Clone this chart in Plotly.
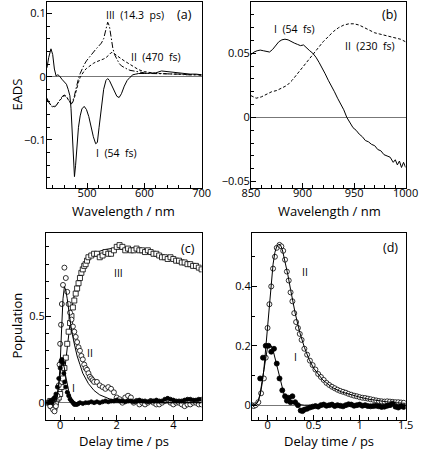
import plotly.graph_objects as go

# ---------------- Panel (a): EADS, visible ----------------
wl_a = [430, 433, 437, 440, 443, 446, 449, 452, 456, 460, 464, 467, 470, 472, 474, 476, 478, 480,
        482, 485, 488, 491, 495, 499, 503, 507, 511, 515, 518, 521, 525, 529, 533, 536, 539, 542,
        545, 548, 552, 556, 560, 565, 570, 575, 580, 585, 590, 600, 610, 620, 630, 640, 650, 660,
        670, 680, 690, 700]
eads_a_I = [0.014, 0.03, 0.044, 0.035, 0.012, 0.001, 0.003, 0.001, -0.004, -0.008, -0.012, -0.02,
            -0.03, -0.05, -0.085, -0.125, -0.158, -0.14, -0.11, -0.08, -0.062, -0.051, -0.047,
            -0.052, -0.063, -0.08, -0.095, -0.106, -0.104, -0.08, -0.045, -0.02, -0.006, -0.003,
            -0.006, -0.012, -0.018, -0.025, -0.031, -0.033, -0.027, -0.015, -0.006, -0.001, 0.003,
            0.004, 0.005, 0.005, 0.005, 0.006, 0.009, 0.008, 0.006, 0.005, 0.005, 0.004, 0.004, 0.003]
eads_a_II = [-0.034, -0.04, -0.045, -0.047, -0.047, -0.045, -0.042, -0.038, -0.033, -0.03, -0.032,
             -0.037, -0.041, -0.043, -0.043, -0.039, -0.033, -0.026, -0.018, -0.009, -0.001, 0.004,
             0.009, 0.013, 0.016, 0.019, 0.021, 0.023, 0.024, 0.025, 0.026, 0.028, 0.03, 0.032,
             0.035, 0.038, 0.038, 0.036, 0.033, 0.03, 0.028, 0.025, 0.022, 0.019, 0.016, 0.013,
             0.011, 0.008, 0.006, 0.005, 0.005, 0.004, 0.004, 0.004, 0.003, 0.003, 0.003, 0.002]
eads_a_III = [-0.036, -0.041, -0.046, -0.048, -0.048, -0.046, -0.042, -0.037, -0.032, -0.029, -0.031,
              -0.036, -0.04, -0.042, -0.042, -0.037, -0.03, -0.022, -0.013, -0.003, 0.005, 0.012,
              0.019, 0.025, 0.03, 0.035, 0.039, 0.043, 0.046, 0.049, 0.053, 0.06, 0.075, 0.086,
              0.08, 0.062, 0.045, 0.035, 0.027, 0.021, 0.017, 0.014, 0.012, 0.01, 0.009, 0.008,
              0.007, 0.006, 0.005, 0.005, 0.005, 0.004, 0.004, 0.004, 0.003, 0.003, 0.003, 0.003]

# ---------------- Panel (b): EADS, near-IR ----------------
wl_b_I = [850, 853, 856, 859, 862, 865, 868, 871, 874, 877, 880, 883, 886, 889, 892, 895, 898, 901,
          904, 907, 910, 913, 916, 919, 922, 925, 928, 931, 934, 937, 940, 943, 946, 949, 952, 955,
          958, 961, 964, 967, 970, 973, 976, 979, 982, 985, 988, 990, 992, 994, 996, 998, 1000]
eads_b_I = [0.049, 0.051, 0.052, 0.0525, 0.052, 0.0515, 0.051, 0.053, 0.056, 0.059, 0.0605, 0.061,
            0.0605, 0.059, 0.058, 0.057, 0.056, 0.0565, 0.054, 0.052, 0.05, 0.047, 0.043, 0.039,
            0.034, 0.029, 0.025, 0.02, 0.015, 0.011, 0.006, 0.0, -0.004, -0.008, -0.01, -0.013,
            -0.015, -0.018, -0.019, -0.021, -0.022, -0.025, -0.026, -0.029, -0.03, -0.031, -0.035,
            -0.033, -0.037, -0.034, -0.039, -0.035, -0.039]
wl_b_II = [850, 855, 860, 865, 870, 875, 880, 885, 890, 895, 900, 905, 910, 915, 920, 925, 930, 935,
           940, 945, 950, 955, 960, 965, 970, 975, 980, 985, 990, 995, 1000]
eads_b_II = [0.017, 0.015, 0.016, 0.018, 0.020, 0.021, 0.023, 0.025, 0.029, 0.034, 0.039, 0.044,
             0.049, 0.054, 0.059, 0.063, 0.067, 0.070, 0.072, 0.073, 0.073, 0.072, 0.070, 0.068,
             0.066, 0.065, 0.064, 0.063, 0.062, 0.061, 0.059]

# ---------------- Panel (c): populations, 0-5 ps ----------------
t_c_III = [-0.4, -0.35, -0.3, -0.25, -0.2, -0.15, -0.1, -0.05, 0.0, 0.05, 0.1, 0.15, 0.2, 0.25, 0.3,
           0.35, 0.4, 0.45, 0.5, 0.55, 0.6, 0.65, 0.7, 0.75, 0.8, 0.85, 0.9, 0.95, 1.0, 1.1, 1.2,
           1.3, 1.4, 1.5, 1.6, 1.7, 1.8, 1.9, 2.0, 2.1, 2.2, 2.3, 2.4, 2.5, 2.6, 2.7, 2.8, 2.9,
           3.0, 3.1, 3.2, 3.3, 3.4, 3.5, 3.6, 3.7, 3.8, 3.9, 4.0, 4.1, 4.2, 4.3, 4.4, 4.5, 4.6,
           4.7, 4.8, 4.9, 5.0]
pop_c_III = [0.0, 0.01, -0.02, 0.0, -0.03, 0.0, 0.02, 0.03, 0.05, 0.09, 0.14, 0.2, 0.26, 0.34, 0.41,
             0.46, 0.5, 0.55, 0.59, 0.63, 0.66, 0.69, 0.72, 0.75, 0.77, 0.79, 0.8, 0.82, 0.84,
             0.85, 0.86, 0.86, 0.84, 0.85, 0.87, 0.86, 0.86, 0.88, 0.9, 0.91, 0.9, 0.88, 0.89,
             0.88, 0.88, 0.89, 0.88, 0.88, 0.87, 0.88, 0.87, 0.86, 0.86, 0.85, 0.84, 0.84, 0.83,
             0.84, 0.83, 0.82, 0.82, 0.81, 0.81, 0.8, 0.8, 0.79, 0.79, 0.78, 0.77]
t_c_II = [-0.4, -0.35, -0.3, -0.25, -0.2, -0.15, -0.1, -0.05, -0.02, 0.0, 0.03, 0.06, 0.1, 0.15,
          0.2, 0.25, 0.3, 0.35, 0.4, 0.45, 0.5, 0.55, 0.6, 0.65, 0.7, 0.75, 0.8, 0.85, 0.9, 0.95,
          1.0, 1.05, 1.1, 1.15, 1.2, 1.3, 1.4, 1.5, 1.6, 1.7, 1.8, 1.9, 2.0, 2.1, 2.2, 2.3, 2.4,
          2.5, 2.6, 2.7, 2.8, 2.9, 3.0, 3.1, 3.2, 3.3, 3.4, 3.5, 3.6, 3.7, 3.8, 3.9, 4.0, 4.1,
          4.2, 4.3, 4.4, 4.5, 4.6, 4.7, 4.8, 4.9, 5.0]
pop_c_II = [0.0, -0.02, 0.01, -0.04, -0.05, -0.02, 0.04, 0.1, 0.22, 0.34, 0.45, 0.57, 0.68, 0.78,
            0.72, 0.64, 0.57, 0.52, 0.48, 0.44, 0.41, 0.38, 0.35, 0.32, 0.3, 0.27, 0.25, 0.22,
            0.2, 0.19, 0.17, 0.15, 0.14, 0.13, 0.12, 0.12, 0.1, 0.09, 0.08, 0.09, 0.08, 0.06,
            0.03, 0.02, 0.0, 0.03, 0.04, 0.03, 0.0, 0.01, -0.01, 0.0, -0.01, 0.0, 0.01, 0.0,
            -0.01, -0.01, 0.0, 0.01, 0.02, 0.0, -0.01, 0.0, 0.0, -0.01, -0.02, -0.01, -0.01,
            0.0, 0.0, -0.01, -0.01]
t_c_I = [-0.4, -0.35, -0.3, -0.25, -0.2, -0.15, -0.1, -0.05, 0.0, 0.03, 0.06, 0.1, 0.13, 0.16, 0.2,
         0.25, 0.3, 0.35, 0.4, 0.45, 0.5, 0.55, 0.6, 0.65, 0.7, 0.8, 0.9, 1.0, 1.1, 1.2, 1.3, 1.4,
         1.5, 1.6, 1.7, 1.8, 1.9, 2.0, 2.1, 2.2, 2.3, 2.4, 2.5, 2.6, 2.7, 2.8, 2.9, 3.0, 3.1,
         3.2, 3.3, 3.4, 3.5, 3.6, 3.7, 3.8, 3.9, 4.0, 4.1, 4.2, 4.3, 4.4, 4.5, 4.6, 4.7, 4.8,
         4.9, 5.0]
pop_c_I = [0.0, 0.01, 0.0, 0.02, 0.03, 0.05, 0.09, 0.14, 0.2, 0.24, 0.25, 0.23, 0.17, 0.12, 0.09,
           0.06, 0.04, 0.02, 0.01, 0.0, -0.01, -0.01, -0.01, -0.005, 0.0, -0.005, 0.0, 0.0, 0.005,
           0.0, 0.005, 0.0, 0.005, 0.01, 0.005, 0.01, 0.01, 0.015, 0.01, 0.01, 0.005, 0.01, 0.01,
           0.005, 0.01, 0.015, 0.01, 0.01, 0.005, 0.01, 0.01, 0.015, 0.01, 0.01, 0.02, 0.025,
           0.02, 0.015, 0.01, 0.01, 0.01, 0.015, 0.02, 0.02, 0.015, 0.015, 0.02, 0.02]
t_c_fit = [-0.5, -0.3, -0.2, -0.15, -0.1, -0.05, 0.0, 0.05, 0.1, 0.15, 0.2, 0.25, 0.3, 0.4, 0.5,
           0.6, 0.7, 0.8, 1.0, 1.2, 1.4, 1.6, 1.8, 2.0, 2.5, 3.0, 3.5, 4.0, 4.5, 5.0]
fit_c_I = [0.0, 0.0, 0.005, 0.02, 0.05, 0.11, 0.17, 0.22, 0.23, 0.2, 0.15, 0.1, 0.07, 0.025, 0.005,
           0.0, 0.0, 0.0, 0.0, 0.0, 0.0, 0.0, 0.0, 0.0, 0.0, 0.0, 0.0, 0.0, 0.0, 0.0]
fit_c_II = [0.0, 0.0, 0.0, 0.005, 0.03, 0.1, 0.22, 0.42, 0.6, 0.67, 0.65, 0.6, 0.53, 0.42, 0.34,
            0.27, 0.22, 0.17, 0.11, 0.07, 0.045, 0.03, 0.018, 0.01, 0.003, 0.0, 0.0, 0.0, 0.0, 0.0]
fit_c_III = [0.0, 0.0, 0.0, 0.0, 0.003, 0.01, 0.03, 0.06, 0.1, 0.17, 0.25, 0.33, 0.41, 0.53, 0.62,
             0.68, 0.73, 0.77, 0.82, 0.855, 0.875, 0.885, 0.89, 0.89, 0.88, 0.865, 0.845, 0.82,
             0.795, 0.77]

# ---------------- Panel (d): populations, 0-1.5 ps ----------------
t_d_II = [-0.17, -0.15, -0.13, -0.1, -0.07, -0.04, -0.02, 0.0, 0.02, 0.04, 0.06, 0.08, 0.1, 0.13,
          0.15, 0.17, 0.19, 0.21, 0.23, 0.25, 0.27, 0.29, 0.31, 0.33, 0.35, 0.37, 0.4, 0.43, 0.46,
          0.49, 0.52, 0.55, 0.58, 0.61, 0.64, 0.67, 0.7, 0.73, 0.76, 0.79, 0.82, 0.85, 0.88,
          0.91, 0.94, 0.97, 1.0, 1.03, 1.06, 1.09, 1.12, 1.15, 1.18, 1.21, 1.24, 1.27, 1.3,
          1.33, 1.36, 1.39, 1.42, 1.45, 1.48]
pop_d_II = [0.0, -0.003, 0.0, 0.01, 0.04, 0.09, 0.16, 0.26, 0.34, 0.4, 0.46, 0.5, 0.53, 0.54,
            0.535, 0.52, 0.49, 0.45, 0.42, 0.38, 0.35, 0.31, 0.28, 0.26, 0.24, 0.22, 0.19, 0.17,
            0.15, 0.135, 0.12, 0.105, 0.095, 0.085, 0.075, 0.068, 0.062, 0.057, 0.052, 0.048,
            0.045, 0.042, 0.038, 0.035, 0.032, 0.03, 0.027, 0.025, 0.024, 0.022, 0.02, 0.018,
            0.016, 0.014, 0.013, 0.012, 0.013, 0.012, 0.011, 0.01, 0.01, 0.009, 0.008]
t_d_I = [-0.08, -0.05, -0.02, 0.01, 0.04, 0.07, 0.1, 0.13, 0.16, 0.19, 0.21, 0.23, 0.25, 0.27, 0.3,
         0.33, 0.36, 0.38, 0.4, 0.43, 0.46, 0.49, 0.52, 0.55, 0.58, 0.61, 0.64, 0.67, 0.7, 0.73,
         0.76, 0.79, 0.82, 0.85, 0.88, 0.91, 0.94, 0.97, 1.0, 1.03, 1.06, 1.09, 1.12, 1.15, 1.18,
         1.21, 1.24, 1.27, 1.3, 1.33, 1.36, 1.39, 1.42, 1.45, 1.48]
pop_d_I = [0.09, 0.16, 0.2, 0.2, 0.18, 0.19, 0.14, 0.09, 0.05, 0.03, 0.015, 0.025, 0.01, 0.03, 0.01,
           0.0, -0.018, -0.02, -0.015, -0.012, -0.008, -0.005, -0.003, -0.005, 0.0, 0.002,
           -0.002, 0.0, 0.002, -0.003, 0.0, -0.002, -0.004, 0.0, 0.003, 0.002, -0.002, 0.0,
           0.002, -0.002, 0.0, -0.003, -0.004, -0.003, -0.002, -0.004, -0.006, -0.005, -0.002,
           0.0, 0.005, -0.005, -0.008, -0.004, -0.006]
t_d_fit = [-0.17, -0.15, -0.12, -0.1, -0.08, -0.06, -0.04, -0.02, 0.0, 0.02, 0.04, 0.06, 0.08, 0.1,
           0.12, 0.14, 0.16, 0.18, 0.2, 0.22, 0.25, 0.3, 0.35, 0.4, 0.45, 0.5, 0.6, 0.7, 0.8, 0.9,
           1.0, 1.1, 1.2, 1.3, 1.4, 1.5]
fit_d_I = [0.0, 0.0, 0.005, 0.015, 0.04, 0.08, 0.13, 0.17, 0.195, 0.205, 0.2, 0.185, 0.16, 0.13,
           0.1, 0.075, 0.05, 0.035, 0.025, 0.018, 0.01, 0.004, 0.001, 0.0, 0.0, 0.0, 0.0, 0.0,
           0.0, 0.0, 0.0, 0.0, 0.0, 0.0, 0.0, 0.0]
fit_d_II = [0.0, 0.0, 0.005, 0.015, 0.035, 0.07, 0.12, 0.19, 0.27, 0.35, 0.42, 0.475, 0.515, 0.535,
            0.542, 0.54, 0.525, 0.5, 0.47, 0.44, 0.39, 0.31, 0.245, 0.195, 0.155, 0.125, 0.085,
            0.06, 0.045, 0.035, 0.027, 0.02, 0.015, 0.011, 0.008, 0.006]

FONT = "Open Sans"
W, H = 430, 451

fig = go.Figure()

def line(x, y, ax, dash="solid", width=1):
    fig.add_trace(go.Scatter(x=x, y=y, mode="lines", xaxis="x" + ax, yaxis="y" + ax,
                             line=dict(color="black", width=width, dash=dash),
                             hoverinfo="skip", showlegend=False))

def pts(x, y, ax, symbol, size, filled):
    fig.add_trace(go.Scatter(x=x, y=y, mode="markers", xaxis="x" + ax, yaxis="y" + ax,
                             marker=dict(symbol=symbol, size=size,
                                         color="black" if filled else "white",
                                         line=dict(color="black", width=0.8)),
                             hoverinfo="skip", showlegend=False))

# (a)
line(wl_a, eads_a_I, "")
line(wl_a, eads_a_II, "", dash="3px,2px")
line(wl_a, eads_a_III, "", dash="6px,2px,1.5px,2px")
# (b)
line(wl_b_I, eads_b_I, "2")
line(wl_b_II, eads_b_II, "2", dash="3px,2px")
# (c)
line(t_c_fit, fit_c_III, "3")
pts(t_c_III, pop_c_III, "3", "square", 5, False)
pts(t_c_II, pop_c_II, "3", "circle", 5, False)
pts(t_c_I, pop_c_I, "3", "circle", 4, True)
line(t_c_fit, fit_c_I, "3")
line(t_c_fit, fit_c_II, "3")
# (d)
pts(t_d_II, pop_d_II, "4", "circle", 5, False)
pts(t_d_I, pop_d_I, "4", "circle", 5, True)
line(t_d_fit, fit_d_I, "4")
line(t_d_fit, fit_d_II, "4")

def px(xp):
    return xp / W

def py(yp):
    return 1 - yp / H

def xax(domain, rng, dtick, minor, anchor):
    return dict(domain=domain, range=rng, dtick=dtick, tick0=0, anchor=anchor,
                ticks="inside", ticklen=5, tickwidth=0.8, tickcolor="black",
                ticklabelstandoff=-5,
                minor=dict(ticks="inside", ticklen=3, dtick=minor, tick0=0, tickcolor="black", tickwidth=0.8),
                showline=True, linecolor="black", linewidth=1, mirror=True,
                showgrid=False, zeroline=False,
                tickfont=dict(family=FONT, size=11, color="black"))

def yax(domain, rng, dtick, minor, anchor):
    d = xax(domain, rng, dtick, minor, anchor)
    d.update(zeroline=True, zerolinecolor="#777777", zerolinewidth=0.8, ticklabelstandoff=-2)
    return d

fig.update_layout(
    width=W, height=H, margin=dict(l=0, r=0, t=0, b=0),
    paper_bgcolor="white", plot_bgcolor="white", showlegend=False,
    xaxis=xax([px(40), px(203)], [430, 700], 100, 20, "y"),
    yaxis=yax([py(188), py(2)], [-0.176, 0.118], 0.1, 0.02, "x"),
    xaxis2=xax([px(255), px(418)], [850, 1000], 50, 10, "y2"),
    yaxis2=yax([py(188), py(2)], [-0.055, 0.09], 0.05, 0.01, "x2"),
    xaxis3=xax([px(39), px(203)], [-0.5, 5], 2, 0.5, "y3"),
    yaxis3=yax([py(420), py(233)], [-0.1, 0.98], 0.5, 0.1, "x3"),
    xaxis4=xax([px(256), px(418)], [-0.17, 1.5], 0.5, 0.1, "y4"),
    yaxis4=yax([py(420), py(233)], [-0.05, 0.58], 0.2, 0.1, "x4"),
)

anns = []
def note(text, x, y, ax, size=10.5, xanchor="left"):
    anns.append(dict(text=text, x=x, y=y, xref="x" + ax, yref="y" + ax, showarrow=False,
                     xanchor=xanchor, yanchor="middle",
                     font=dict(family=FONT, size=size, color="black")))

def pnote(text, xp, yp, size=13, angle=0):
    anns.append(dict(text=text, x=px(xp), y=py(yp), xref="paper", yref="paper", showarrow=False,
                     xanchor="center", yanchor="middle", textangle=angle,
                     font=dict(family=FONT, size=size, color="black")))

note("III  (14.3  ps)", 529, 0.098, "", xanchor="left")
note("II  (470  fs)", 574, 0.031, "", xanchor="left")
note("I  (54  fs)", 513, -0.121, "", xanchor="left")
note("(a)", 687, 0.098, "", size=12.5, xanchor="right")
note("I  (54  fs)", 870, 0.069, "2", xanchor="left")
note("II  (230  fs)", 939, 0.056, "2", xanchor="left")
note("(b)", 994, 0.080, "2", size=12.5, xanchor="right")
note("(c)", 4.83, 0.893, "3", size=12.5, xanchor="right")
note("III", 2.05, 0.75, "3", xanchor="center")
note("II", 1.04, 0.287, "3", xanchor="center")
note("I", 0.47, 0.085, "3", xanchor="center")
note("(d)", 1.44, 0.53, "4", size=12.5, xanchor="right")
note("II", 0.41, 0.449, "4", xanchor="center")
note("I", 0.30, 0.162, "4", xanchor="center")

pnote("Wavelength / nm", 121, 211)
pnote("Wavelength / nm", 338, 211)
pnote("Delay time / ps", 121, 441)
pnote("Delay time / ps", 337, 441)
pnote("EADS", 8, 95, angle=-90)
pnote("Population", 8, 326, angle=-90)

fig.update_layout(annotations=anns)
fig.write_html("out.html", config={"displayModeBar": False},
               post_script="document.body.style.margin='0';")
